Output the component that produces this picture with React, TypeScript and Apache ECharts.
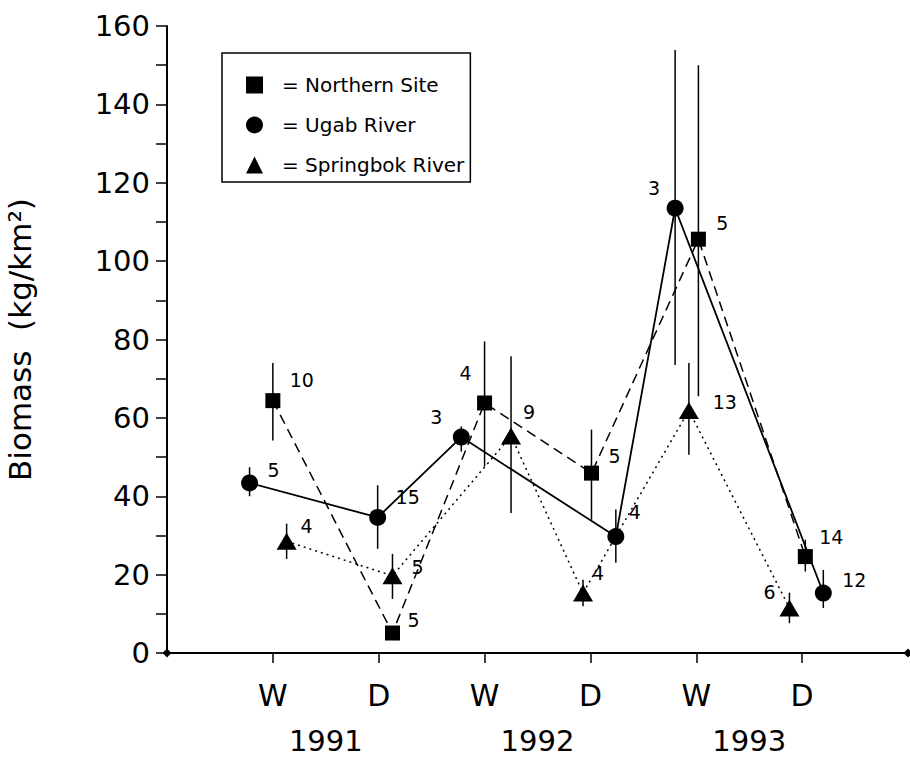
import React, { useEffect, useRef } from "react";
import * as echarts from "echarts";

// ---- data ----
const seasonLabels = ["W", "D", "W", "D", "W", "D"];
const yearLabels = ["1991", "1992", "1993"];
const yTicks = [0, 20, 40, 60, 80, 100, 120, 140, 160];

const siteNames = ["Northern Site", "Ugab River", "Springbok River"];

// x positions (season index, with the small horizontal offsets of the figure)
const northernX = [1.0, 2.13, 3.0, 4.01, 5.02, 6.03];
const ugabX = [0.78, 1.99, 2.78, 4.24, 4.8, 6.2];
const springbokX = [1.13, 2.13, 3.25, 3.93, 4.93, 5.88];

// mean biomass (kg/km2)
const northernY = [64.4, 5.1, 63.8, 45.9, 105.6, 24.6];
const ugabY = [43.4, 34.6, 55.1, 29.7, 113.5, 15.3];
const springbokY = [28.5, 19.7, 55.4, 15.3, 61.9, 11.5];

// error bar ends
const northernLow = [54.2, 3.5, 47.6, 34, 65.5, 20.8];
const northernHigh = [74, 6.5, 79.5, 57, 150, 28.9];
const ugabLow = [40, 26.6, 51.4, 23, 73.5, 11.5];
const ugabHigh = [47.4, 42.8, 57.8, 36.6, 153.9, 21.2];
const springbokLow = [24, 13.8, 35.7, 11.9, 50.6, 7.6];
const springbokHigh = [33, 25.3, 75.7, 18.7, 74, 15.4];

// sample sizes
const northernN = [10, 5, 4, 5, 5, 14];
const ugabN = [5, 15, 3, 4, 3, 12];
const springbokN = [4, 5, 9, 4, 13, 6];

// ---- layout of the n labels (pixel offsets from the marker) ----
const northernLabelOffset = [[29, -21], [21, -13], [-19, -30], [23, -17], [24, -16], [26, -20]];
const ugabLabelOffset = [[24, -13], [30, -20], [-25, -20], [19, -25], [-21, -20], [31, -13]];
const springbokLabelOffset = [[20, -15], [25, -9], [18, -24], [15, -20], [36, -8], [-20, -16]];

const FONT = "'DejaVu Sans', Verdana, sans-serif";

function lineData(xs: number[], ys: number[], ns: number[], offs: number[][]) {
  return xs.map((x, i) => ({
    value: [x, ys[i]],
    label: {
      show: true,
      position: "inside",
      offset: offs[i],
      formatter: String(ns[i]),
    },
  }));
}

function errData(xs: number[], lo: number[], hi: number[]) {
  return xs.map((x, i) => [x, lo[i], hi[i]]);
}

function errSeries(name: string, data: number[][]) {
  return {
    type: "custom",
    name,
    z: 1,
    silent: true,
    encode: { x: 0, y: [1, 2] },
    data,
    renderItem: (params: any, api: any) => {
      const p1 = api.coord([api.value(0), api.value(1)]);
      const p2 = api.coord([api.value(0), api.value(2)]);
      return {
        type: "line",
        shape: { x1: p1[0], y1: p1[1], x2: p2[0], y2: p2[1] },
        style: { stroke: "#000", lineWidth: 1.5 },
      };
    },
  };
}

export default function App() {
  const ref = useRef<HTMLDivElement>(null);

  useEffect(() => {
    document.body.style.margin = "0";
    if (!ref.current) return;
    const chart = echarts.init(ref.current, undefined, { renderer: "svg" });

    const labelStyle = {
      color: "#000",
      fontSize: 19,
      fontFamily: FONT,
    };

    const option: any = {
      animation: false,
      backgroundColor: "#fff",
      textStyle: { fontFamily: FONT, color: "#000" },
      grid: {
        left: 167,
        right: 2,
        top: 26,
        bottom: 106,
        containLabel: false,
        outerBoundsMode: "none",
      },
      legend: {
        orient: "vertical",
        left: 222,
        top: 53,
        data: [
          { name: siteNames[0], icon: "rect" },
          { name: siteNames[1], icon: "circle" },
          { name: siteNames[2], icon: "triangle" },
        ],
        formatter: (name: string) => "= " + name,
        itemWidth: 17,
        itemHeight: 17,
        itemGap: 20,
        padding: [22, 6, 7, 24],
        borderColor: "#000",
        borderWidth: 1.5,
        borderRadius: 0,
        backgroundColor: "#fff",
        textStyle: {
          color: "#000",
          fontSize: 20,
          fontFamily: FONT,
          padding: [0, 0, 0, 14],
        },
        selectedMode: false,
      },
      xAxis: [
        {
          type: "value",
          min: 0,
          max: 7,
          interval: 1,
          splitLine: { show: false },
          axisLine: {
            show: true,
            symbol: ["diamond", "diamond"],
            symbolSize: [9, 9],
            lineStyle: { color: "#000", width: 2 },
          },
          axisTick: {
            show: true,
            length: 10,
            customValues: [1, 2, 3, 4, 5, 6],
            lineStyle: { color: "#000", width: 1.5 },
          },
          axisLabel: {
            show: true,
            customValues: [1, 2, 3, 4, 5, 6],
            formatter: (v: number) => seasonLabels[Math.round(v) - 1] ?? "",
            margin: 27,
            color: "#000",
            fontSize: 30,
            fontFamily: FONT,
          },
        },
        {
          type: "value",
          min: 0,
          max: 7,
          position: "bottom",
          splitLine: { show: false },
          axisLine: { show: false },
          axisTick: { show: false },
          axisLabel: {
            show: true,
            customValues: [1.5, 3.5, 5.5],
            formatter: (v: number) => yearLabels[Math.round((v - 1.5) / 2)] ?? "",
            margin: 73,
            color: "#000",
            fontSize: 29,
            lineHeight: 29,
            fontFamily: FONT,
          },
        },
      ],
      yAxis: {
        type: "value",
        min: yTicks[0],
        max: yTicks[yTicks.length - 1],
        interval: yTicks[1] - yTicks[0],
        name: "Biomass  (kg/km²)",
        nameLocation: "middle",
        nameGap: 132,
        nameTextStyle: { color: "#000", fontSize: 31, fontFamily: FONT },
        splitLine: { show: false },
        axisLine: { show: true, lineStyle: { color: "#000", width: 2 } },
        axisTick: { show: true, length: 11, lineStyle: { color: "#000", width: 1.5 } },
        minorTick: { show: true, splitNumber: 2, length: 11, lineStyle: { color: "#000", width: 1.5 } },
        axisLabel: { margin: 17, color: "#000", fontSize: 29, fontFamily: FONT },
      },
      series: [
        errSeries("Northern Site error", errData(northernX, northernLow, northernHigh)),
        errSeries("Ugab River error", errData(ugabX, ugabLow, ugabHigh)),
        errSeries("Springbok River error", errData(springbokX, springbokLow, springbokHigh)),
        {
          type: "line",
          name: siteNames[0],
          z: 3,
          data: lineData(northernX, northernY, northernN, northernLabelOffset),
          symbol: "rect",
          symbolSize: 15,
          itemStyle: { color: "#000" },
          lineStyle: { color: "#000", width: 1.5, type: [10, 6] },
          label: labelStyle,
        },
        {
          type: "line",
          name: siteNames[1],
          z: 3,
          data: lineData(ugabX, ugabY, ugabN, ugabLabelOffset),
          symbol: "circle",
          symbolSize: 17,
          itemStyle: { color: "#000" },
          lineStyle: { color: "#000", width: 1.8, type: "solid" },
          label: labelStyle,
        },
        {
          type: "line",
          name: siteNames[2],
          z: 3,
          data: lineData(springbokX, springbokY, springbokN, springbokLabelOffset),
          symbol: "triangle",
          symbolSize: [20, 17],
          itemStyle: { color: "#000" },
          lineStyle: { color: "#000", width: 1.5, type: [2, 4] },
          label: labelStyle,
        },
      ],
    };

    chart.setOption(option);
    return () => chart.dispose();
  }, []);

  return <div ref={ref} style={{ width: 910, height: 759 }} />;
}
